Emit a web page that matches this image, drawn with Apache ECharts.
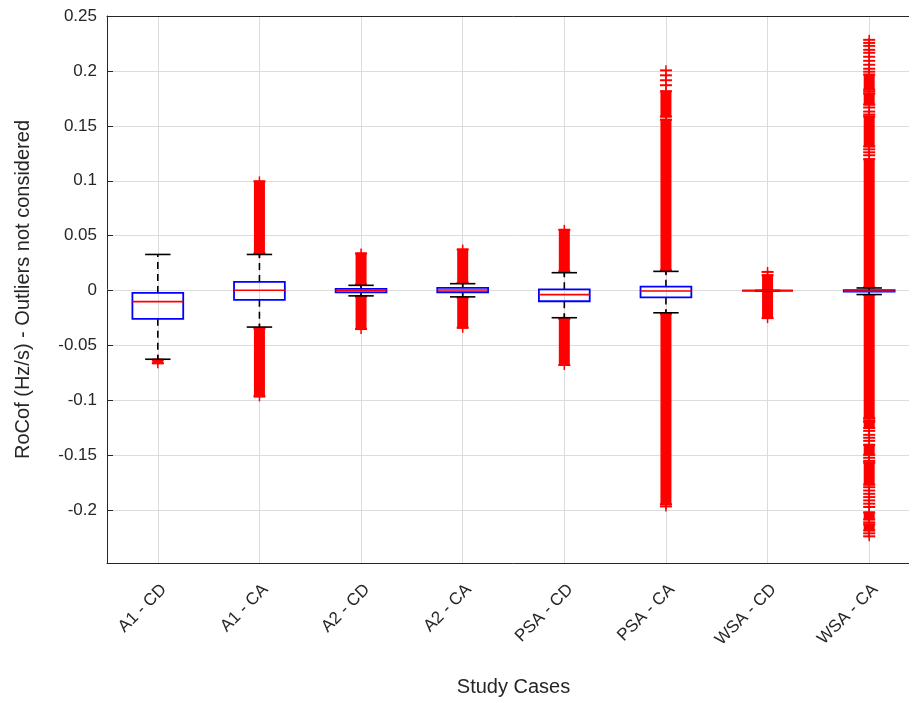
<!DOCTYPE html>
<html><head><meta charset="utf-8">
<script src="https://cdn.jsdelivr.net/npm/echarts@6/dist/echarts.min.js"></script>
<style>html,body{margin:0;padding:0;overflow:hidden;background:#fff}#c{width:930px;height:702px}</style>
</head><body><div id="c"></div>
<script>
const categories = ['A1 - CD','A1 - CA','A2 - CD','A2 - CA','PSA - CD','PSA - CA','WSA - CD','WSA - CA'];
const whiskerLow  = [-0.0625, -0.0332, -0.0048, -0.0057, -0.0247, -0.0202, 0, -0.0036];
const quartile1   = [-0.0257, -0.0084, -0.0016, -0.0015, -0.0097, -0.0062, 0, -0.0010];
const medians     = [-0.0100,  0.0003,  0.0000,  0.0005, -0.0037, -0.0004, 0, -0.0003];
const quartile3   = [-0.0021,  0.0079,  0.0016,  0.0024,  0.0012,  0.0036, 0,  0.0005];
const whiskerHigh = [ 0.0329,  0.0329,  0.0048,  0.0063,  0.0163,  0.0175, 0,  0.0024];
// dense runs of outliers (drawn as packed '+' markers): [low, high]
const outlierBands = [
  [[-0.0661, -0.0630]],
  [[-0.0963, -0.0345], [0.0340, 0.0994]],
  [[-0.0350, -0.0056], [0.0056, 0.0338]],
  [[-0.0338, -0.0066], [0.0072, 0.0374]],
  [[-0.0677, -0.0258], [0.0175, 0.0553]],
  [[-0.1945, -0.0212], [0.0186, 0.1555], [0.1585, 0.1814]],
  [[-0.0250, 0.0139]],
  [[-0.2183, -0.2129], [-0.2083, -0.2020], [-0.1766, -0.1567], [-0.1495, -0.1404], [-0.1250, -0.1196],
   [-0.1160, -0.0040], [0.0030, 0.1196], [0.1313, 0.1585], [0.1694, 0.1793], [0.1830, 0.1966]]
];
// isolated outliers
const outlierPoints = [
  [], [], [], [], [],
  [-0.1965, 0.1870, 0.1915, 0.1960, 0.2005],
  [0.0170],
  [-0.2237, -0.2210, -0.2110, -0.1970, -0.1940, -0.1910, -0.1880, -0.1850, -0.1820, -0.1790,
   -0.1550, -0.1522, -0.1368, -0.1340, -0.1313, -0.1277, -0.1180,
   0.1232, 0.1259, 0.1286, 0.1603, 0.1630, 0.1667, 0.1812, 0.1993, 0.2020, 0.2056, 0.2092,
   0.2129, 0.2165, 0.2192, 0.2228, 0.2255, 0.2283]
];
const yAxisTitle = 'RoCof (Hz/s) - Outliers not considered';
const xAxisTitle = 'Study Cases';

const FONT = "'Liberation Sans', Arial, Helvetica, sans-serif";
const INK = '#262626';
const GRID = '#dcdcdc';

const boxData = categories.map((c, i) => [i, whiskerLow[i], quartile1[i], medians[i], quartile3[i], whiskerHigh[i]]);
const bandData = [];
outlierBands.forEach((list, i) => list.forEach(b => bandData.push([i, b[0], b[1]])));
const pointData = [];
outlierPoints.forEach((list, i) => list.forEach(v => pointData.push([i, v])));

const RED = '#ff0000';
function plus(cx, cy) {
  return [
    {type: 'line', shape: {x1: cx - 6, y1: cy, x2: cx + 6, y2: cy}, style: {stroke: RED, lineWidth: 2}},
    {type: 'line', shape: {x1: cx, y1: cy - 5, x2: cx, y2: cy + 5}, style: {stroke: RED, lineWidth: 1.5}}
  ];
}
function renderBand(params, api) {
  const i = api.value(0);
  const lo = api.coord([i, api.value(1)]);
  const hi = api.coord([i, api.value(2)]);
  const cx = lo[0];
  const children = [
    {type: 'rect', shape: {x: cx - 5.5, y: hi[1] - 1, width: 11, height: lo[1] - hi[1] + 2}, style: {fill: RED}}
  ].concat(plus(cx, hi[1]), plus(cx, lo[1]));
  return {type: 'group', children};
}
function renderPoint(params, api) {
  const p = api.coord([api.value(0), api.value(1)]);
  return {type: 'group', children: plus(p[0], p[1])};
}
function renderBox(params, api) {
  const i = api.value(0);
  const bw = api.size([1, 0])[0];
  const c = api.coord([i, 0])[0];
  const y = k => api.coord([i, api.value(k)])[1];
  const yLo = y(1), yQ1 = y(2), yMed = y(3), yQ3 = y(4), yHi = y(5);
  const hb = bw * 0.25, hc = bw * 0.125;
  const dash = {stroke: '#000', lineWidth: 1.6, lineDash: [7, 5], fill: null};
  const solid = {stroke: '#000', lineWidth: 1.6, fill: null};
  return {type: 'group', children: [
    {type: 'line', shape: {x1: c, y1: yQ3, x2: c, y2: yHi}, style: dash},
    {type: 'line', shape: {x1: c, y1: yQ1, x2: c, y2: yLo}, style: dash},
    {type: 'line', shape: {x1: c - hc, y1: yHi, x2: c + hc, y2: yHi}, style: solid},
    {type: 'line', shape: {x1: c - hc, y1: yLo, x2: c + hc, y2: yLo}, style: solid},
    {type: 'rect', shape: {x: c - hb, y: yQ3, width: 2 * hb, height: yQ1 - yQ3}, style: {fill: 'none', stroke: '#0000ff', lineWidth: 1.8}},
    {type: 'line', shape: {x1: c - hb, y1: yMed, x2: c + hb, y2: yMed}, style: {stroke: RED, lineWidth: 1.6, fill: null}}
  ]};
}

const chart = echarts.init(document.getElementById('c'), null, {renderer: 'canvas'});
chart.setOption({
  animation: false,
  backgroundColor: '#fff',
  grid: {left: 107, top: 16, width: 813, height: 548},
  xAxis: [{
    type: 'category', data: categories, boundaryGap: true, position: 'bottom',
    axisLine: {onZero: false, lineStyle: {color: INK, width: 1}},
    axisTick: {inside: true, alignWithLabel: true, length: 6, lineStyle: {color: INK}},
    axisLabel: {rotate: 45, margin: 18, verticalAlign: 'top', align: 'right', fontSize: 17, color: INK, fontFamily: FONT, interval: 0},
    splitLine: {show: true, alignWithLabel: true, lineStyle: {color: GRID, width: 1}},
    name: xAxisTitle, nameLocation: 'middle', nameGap: 114,
    nameTextStyle: {fontSize: 20, color: INK, fontFamily: FONT}
  }, {
    type: 'category', data: categories, boundaryGap: true, position: 'top',
    axisLine: {onZero: false, lineStyle: {color: INK, width: 1}},
    axisTick: {inside: true, alignWithLabel: true, length: 6, lineStyle: {color: INK}},
    axisLabel: {show: false}, splitLine: {show: false}
  }],
  yAxis: {
    type: 'value', min: -0.248, max: 0.25, splitNumber: 10,
    axisLine: {show: true, onZero: false, lineStyle: {color: INK, width: 1}},
    axisTick: {show: true, inside: true, length: 6, lineStyle: {color: INK}},
    axisLabel: {showMinLabel: false, fontSize: 17, color: INK, fontFamily: FONT, margin: 10},
    splitLine: {show: true, lineStyle: {color: GRID, width: 1}},
    name: yAxisTitle, nameLocation: 'middle', nameGap: 74, nameRotate: 90,
    nameTextStyle: {fontSize: 20, color: INK, fontFamily: FONT}
  },
  series: [
    {type: 'custom', name: 'outlierBands', renderItem: renderBand, data: bandData, z: 2,
     encode: {x: 0, y: [1, 2]}, clip: false},
    {type: 'custom', name: 'outlierPoints', renderItem: renderPoint, data: pointData, z: 2,
     encode: {x: 0, y: 1}, clip: false},
    {type: 'custom', name: 'boxes', renderItem: renderBox, data: boxData, z: 3,
     encode: {x: 0, y: [1, 2, 3, 4, 5]}, clip: false}
  ]
});
</script></body></html>
